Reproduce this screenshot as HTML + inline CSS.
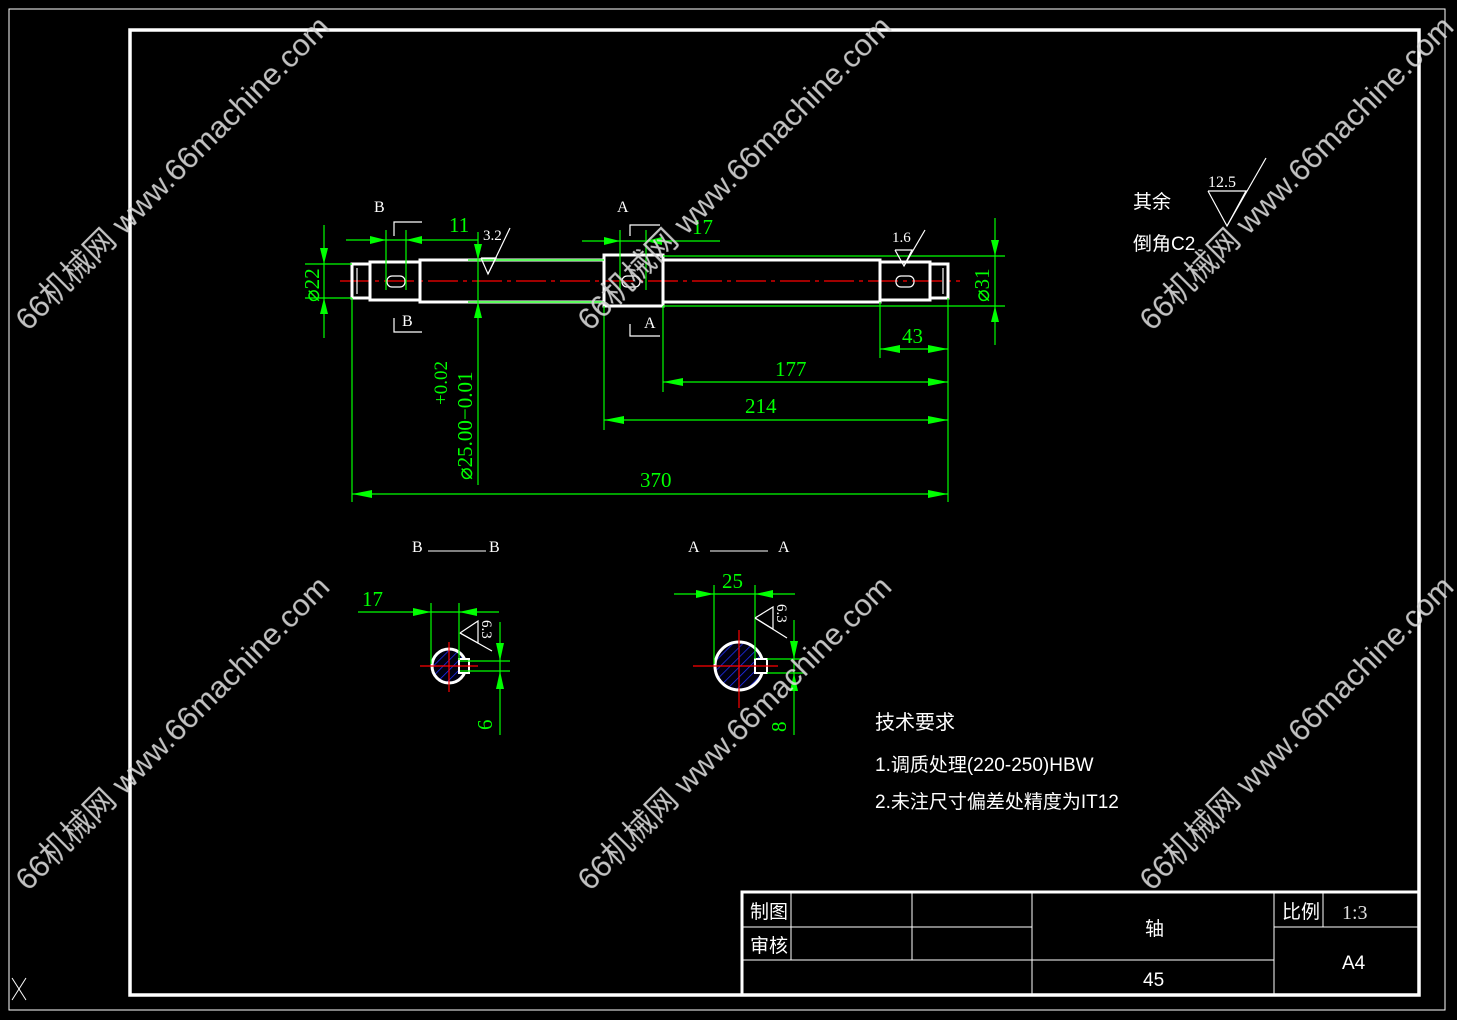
<!DOCTYPE html>
<html><head><meta charset="utf-8"><style>
html,body{margin:0;padding:0;background:#000;width:1457px;height:1020px;overflow:hidden}
svg{display:block}
.g{stroke:#00ff00;stroke-width:1.2;fill:none}
.w{stroke:#fff;stroke-width:3;fill:none}
.wt{stroke:#fff;stroke-width:1.2;fill:none}
.gt{fill:#00ff00;font-family:"Liberation Serif",serif;font-size:21px}
.t{fill:#fff;font-family:"Liberation Sans","Noto Sans CJK SC",sans-serif}
.wm{fill:#d8d8d8;font-family:"Liberation Sans","Noto Sans CJK SC",sans-serif;font-size:31px;opacity:0.9}
.ar{fill:#00ff00}
</style></head><body>
<svg width="1457" height="1020" viewBox="0 0 1457 1020" xmlns="http://www.w3.org/2000/svg">
<defs>
<pattern id="h" width="7" height="7" patternUnits="userSpaceOnUse" patternTransform="rotate(45)">
<rect width="7" height="7" fill="#000010"/>
<line x1="0" y1="0" x2="0" y2="7" stroke="#2030ff" stroke-width="1.5"/>
</pattern>
</defs>
<rect x="9" y="9" width="1436" height="1001" fill="none" stroke="#fff" stroke-width="1"/>
<rect x="130" y="30" width="1289" height="965" fill="none" stroke="#fff" stroke-width="3.5"/>

<line x1="340" y1="281" x2="960" y2="281" stroke="#f00" stroke-width="1.2" stroke-dasharray="30,5,4,5"/>
<g class="w">
<rect x="352" y="264" width="18" height="34"/>
<rect x="370" y="262" width="50" height="38"/>
<rect x="420" y="260" width="184" height="42"/>
<rect x="604" y="255" width="59" height="51"/>
<rect x="663" y="260" width="217" height="42"/>
<rect x="880" y="262" width="50" height="38"/>
<rect x="930" y="264" width="18" height="34"/>
</g>
<g class="wt">
<line x1="357" y1="268" x2="357" y2="294"/><line x1="943" y1="268" x2="943" y2="294"/>
<rect x="387" y="276" width="18" height="11" rx="5"/>
<rect x="896" y="276" width="18" height="11" rx="5"/>
<rect x="622" y="276" width="18" height="11" rx="5"/>
</g>
<g class="g">
<line x1="324" y1="225" x2="324" y2="338"/><line x1="305" y1="264" x2="352" y2="264"/><line x1="305" y1="298" x2="352" y2="298"/>
<line x1="995" y1="218" x2="995" y2="345"/><line x1="663" y1="256" x2="1005" y2="256"/><line x1="663" y1="306" x2="1005" y2="306"/>
<line x1="346" y1="240" x2="478" y2="240"/><line x1="386" y1="230" x2="386" y2="290"/><line x1="406" y1="230" x2="406" y2="290"/>
<line x1="478" y1="232" x2="478" y2="485"/>
<line x1="468" y1="260" x2="604" y2="260"/><line x1="468" y1="302" x2="604" y2="302"/>
<line x1="582" y1="241" x2="720" y2="241"/><line x1="620" y1="230" x2="620" y2="290"/><line x1="646" y1="230" x2="646" y2="290"/>
<line x1="352" y1="298" x2="352" y2="502"/><line x1="948" y1="298" x2="948" y2="502"/>
<line x1="352" y1="494" x2="948" y2="494"/>
<line x1="604" y1="306" x2="604" y2="430"/><line x1="604" y1="420" x2="948" y2="420"/>
<line x1="663" y1="306" x2="663" y2="392"/><line x1="663" y1="382" x2="948" y2="382"/>
<line x1="880" y1="302" x2="880" y2="358"/><line x1="880" y1="349" x2="948" y2="349"/>
</g>
<g class="ar">
<polygon points="324,264 320,248 328,248"/><polygon points="324,298 320,314 328,314"/>
<polygon points="995,256 991,240 999,240"/><polygon points="995,306 991,322 999,322"/>
<polygon points="386,240 370,236 370,244"/><polygon points="406,240 422,236 422,244"/>
<polygon points="478,260 474,244 482,244"/><polygon points="478,302 474,318 482,318"/>
<polygon points="620,241 604,237 604,245"/><polygon points="646,241 662,237 662,245"/>
<polygon points="352,494 372,490 372,498"/><polygon points="948,494 928,490 928,498"/>
<polygon points="604,420 624,416 624,424"/><polygon points="948,420 928,416 928,424"/>
<polygon points="663,382 683,378 683,386"/><polygon points="948,382 928,378 928,386"/>
<polygon points="880,349 900,345 900,353"/><polygon points="948,349 928,345 928,353"/>
</g>
<text class="gt" x="449" y="232">11</text>
<text class="gt" x="692" y="234">17</text>
<text class="gt" x="902" y="343">43</text>
<text class="gt" x="775" y="376">177</text>
<text class="gt" x="745" y="413">214</text>
<text class="gt" x="640" y="487">370</text>
<text class="gt" transform="translate(319,302) rotate(-90)">⌀22</text>
<text class="gt" transform="translate(989,302) rotate(-90)">⌀31</text>
<text class="gt" transform="translate(472,480) rotate(-90)">⌀25.00−0.01</text>
<text class="gt" transform="translate(447,405) rotate(-90)" style="font-size:19px">+0.02</text>
<g class="wt">
<polyline points="394,236 394,222 422,222"/><polyline points="394,318 394,332 422,332"/>
<polyline points="630,236 630,225 660,225"/><polyline points="630,324 630,336 660,336"/>
<polyline points="481,258 496,258 488,274 481,258"/><line x1="488" y1="274" x2="510" y2="228"/>
<polyline points="895,250 912,250 904,266 895,250"/><line x1="904" y1="266" x2="925" y2="230"/>
<polyline points="1208,191 1246,191 1227,226 1208,191"/><line x1="1227" y1="226" x2="1266" y2="158"/>
</g>
<g class="t" style="font-family:'Liberation Serif',serif;font-size:16px">
<text x="374" y="212">B</text><text x="402" y="326">B</text>
<text x="617" y="212">A</text><text x="644" y="328">A</text>
<text x="483" y="240" style="font-size:15px">3.2</text>
<text x="892" y="242" style="font-size:15px">1.6</text>
<text x="1208" y="187" style="font-size:16px">12.5</text>
<text x="412" y="552">B</text><text x="489" y="552">B</text>
<text x="688" y="552">A</text><text x="778" y="552">A</text>
</g>
<line x1="428" y1="551" x2="486" y2="551" stroke="#fff"/>
<line x1="710" y1="551" x2="768" y2="551" stroke="#fff"/>
<text class="t" x="1133" y="208" style="font-size:19px">其余</text>
<text class="t" x="1133" y="250" style="font-size:19px">倒角C2</text>

<circle cx="449" cy="666" r="17" fill="url(#h)" stroke="#fff" stroke-width="3"/>
<rect x="459" y="659" width="10" height="14" fill="#000" stroke="#fff" stroke-width="2"/>
<g stroke="#f00" stroke-width="1.2"><line x1="420" y1="666" x2="478" y2="666"/><line x1="449" y1="642" x2="449" y2="692"/></g>
<g class="g">
<line x1="358" y1="612" x2="499" y2="612"/><line x1="431" y1="603" x2="431" y2="664"/><line x1="459" y1="603" x2="459" y2="660"/>
<line x1="500" y1="622" x2="500" y2="735"/><line x1="460" y1="661" x2="510" y2="661"/><line x1="460" y1="671" x2="510" y2="671"/>
</g>
<g class="ar"><polygon points="431,612 413,608 413,616"/><polygon points="459,612 477,608 477,616"/>
<polygon points="500,661 496,643 504,643"/><polygon points="500,671 496,689 504,689"/></g>
<text class="gt" x="362" y="606">17</text>
<text class="gt" transform="translate(492,730) rotate(-90)">6</text>
<g class="wt"><polyline points="460,633 478,621 478,643 460,633"/><line x1="460" y1="633" x2="492" y2="651"/></g>
<text class="t" transform="translate(482,620) rotate(90)" style="font-size:15px;font-family:'Liberation Serif',serif">6.3</text>

<circle cx="739" cy="666" r="24" fill="url(#h)" stroke="#fff" stroke-width="3"/>
<rect x="755" y="659" width="12" height="14" fill="#000" stroke="#fff" stroke-width="2"/>
<g stroke="#f00" stroke-width="1.2"><line x1="693" y1="666" x2="778" y2="666"/><line x1="739" y1="630" x2="739" y2="708"/></g>
<g class="g">
<line x1="674" y1="594" x2="795" y2="594"/><line x1="714" y1="585" x2="714" y2="664"/><line x1="755" y1="585" x2="755" y2="659"/>
<line x1="794" y1="620" x2="794" y2="735"/><line x1="767" y1="659" x2="805" y2="659"/><line x1="767" y1="673" x2="805" y2="673"/>
</g>
<g class="ar"><polygon points="714,594 696,590 696,598"/><polygon points="755,594 773,590 773,598"/>
<polygon points="794,659 790,641 798,641"/><polygon points="794,673 790,691 798,691"/></g>
<text class="gt" x="722" y="588">25</text>
<text class="gt" transform="translate(786,732) rotate(-90)">8</text>
<g class="wt"><polyline points="755,618 773,607 773,629 755,618"/><line x1="755" y1="618" x2="787" y2="638"/></g>
<text class="t" transform="translate(777,604) rotate(90)" style="font-size:15px;font-family:'Liberation Serif',serif">6.3</text>

<text class="t" x="875" y="729" style="font-size:20px">技术要求</text>
<text class="t" x="875" y="771" style="font-size:19px">1.调质处理(220-250)HBW</text>
<text class="t" x="875" y="808" style="font-size:19px">2.未注尺寸偏差处精度为IT12</text>

<g stroke="#fff" fill="none">
<rect x="742" y="892" width="677" height="103" stroke-width="3"/>
<line x1="742" y1="927" x2="1032" y2="927"/><line x1="742" y1="960" x2="1274" y2="960"/>
<line x1="791" y1="892" x2="791" y2="960"/><line x1="912" y1="892" x2="912" y2="960"/>
<line x1="1032" y1="892" x2="1032" y2="995"/><line x1="1274" y1="892" x2="1274" y2="995"/>
<line x1="1274" y1="927" x2="1419" y2="927"/><line x1="1323" y1="892" x2="1323" y2="927"/>
</g>
<g class="t" style="font-size:19px">
<text x="750" y="918">制图</text><text x="750" y="952">审核</text>
<text x="1145" y="935">轴</text><text x="1143" y="986">45</text>
<text x="1282" y="918">比例</text><text x="1342" y="969">A4</text>
<text x="1342" y="919" style="fill:#ddd;font-family:'Liberation Serif',serif;font-size:20px">1:3</text>
</g>
<g stroke="#fff" stroke-width="1"><line x1="12" y1="978" x2="26" y2="1000"/><line x1="26" y1="978" x2="12" y2="1000"/></g>

<g class="wm">
<text transform="translate(28,332) rotate(-45)">66机械网 www.66machine.com</text>
<text transform="translate(590,332) rotate(-45)">66机械网 www.66machine.com</text>
<text transform="translate(1152,332) rotate(-45)">66机械网 www.66machine.com</text>
<text transform="translate(28,892) rotate(-45)">66机械网 www.66machine.com</text>
<text transform="translate(590,892) rotate(-45)">66机械网 www.66machine.com</text>
<text transform="translate(1152,892) rotate(-45)">66机械网 www.66machine.com</text>
</g>
</svg>
</body></html>
